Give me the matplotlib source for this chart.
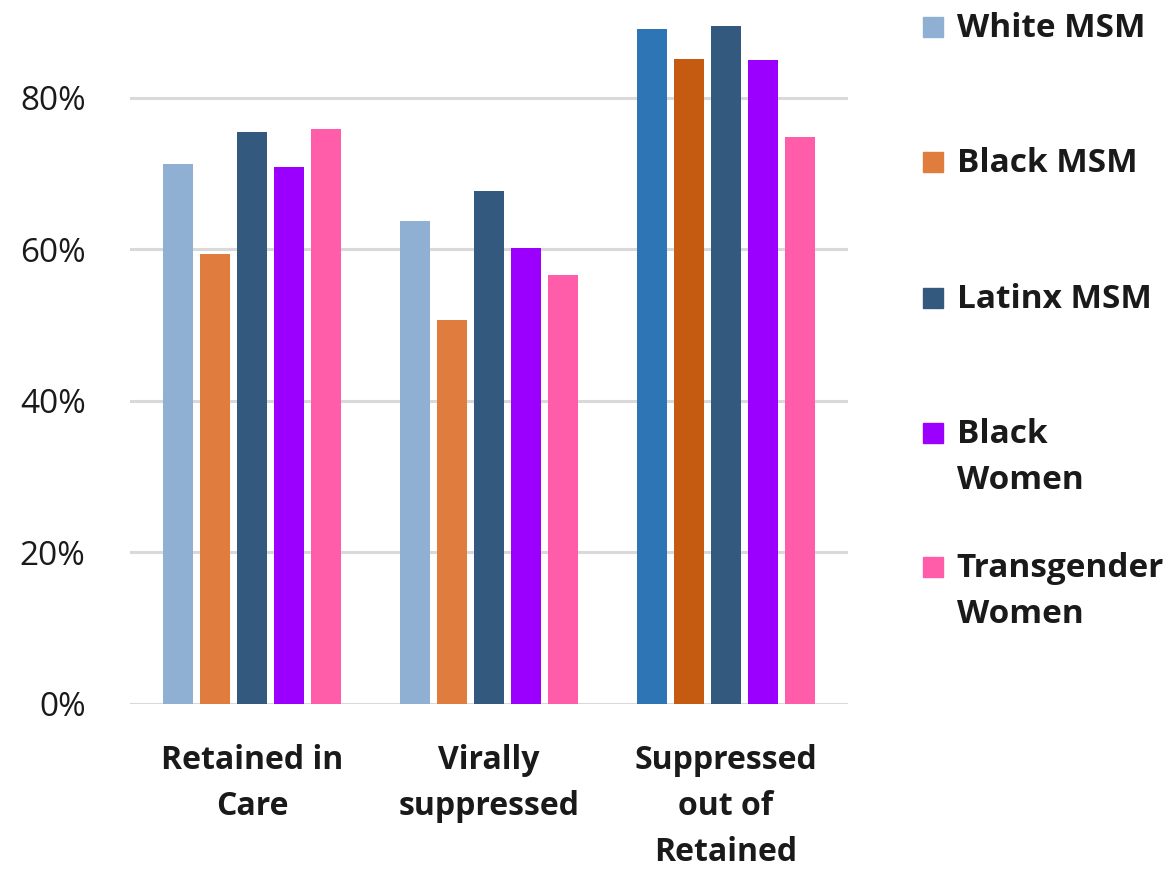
import numpy as np
import matplotlib
matplotlib.use("Agg")
import matplotlib.pyplot as plt
from matplotlib.patches import Rectangle

# categories and series
categories = ["Retained in\nCare", "Virally\nsuppressed", "Suppressed\nout of\nRetained"]
groups = ["White MSM", "Black MSM", "Latinx MSM", "Black\nWomen", "Transgender\nWomen"]
white_msm = [71.2, 63.7, 89.1]
black_msm = [59.4, 50.6, 85.1]
latinx_msm = [75.5, 67.7, 89.5]
black_women = [70.8, 60.2, 84.9]
trans_women = [75.9, 56.6, 74.8]
values = [white_msm, black_msm, latinx_msm, black_women, trans_women]
y_ticks = [0, 20, 40, 60, 80]

colors = ["#8FB0D2", "#E07C3E", "#335A7E", "#9B00FF", "#FF5CAA"]
# last group uses darker blue / orange for the first two series
colors_last = ["#2E75B6", "#C55A11", "#335A7E", "#9B00FF", "#FF5CAA"]

plt.rcParams['font.family'] = ['Open Sans', 'DejaVu Sans']
txt_col = "#1a1a1a"

fig = plt.figure(figsize=(11.66, 8.69), dpi=100)
ax = fig.add_axes([0.1115, 0.19, 0.6155, 0.785])

x = np.arange(len(categories))
pitch = 0.156
width = 0.127
for i, vals in enumerate(values):
    cols = [colors[i]] * (len(categories) - 1) + [colors_last[i]]
    ax.bar(x + (i - 2) * pitch, vals, width, color=cols, zorder=3)

ax.set_xlim(-0.515, 2.515)
ax.set_ylim(0, 90)
ax.set_yticks(y_ticks)
ax.set_yticklabels([f"{t}%" for t in y_ticks], fontsize=24, color=txt_col)
ax.set_xticks(x)
ax.set_xticklabels(categories, fontsize=23, fontweight="bold", color=txt_col,
                   linespacing=1.52)
ax.tick_params(axis="y", length=0, pad=32)
ax.tick_params(axis="x", length=0, pad=29)
ax.yaxis.grid(True, color="#d9d9d9", linewidth=2.2, zorder=0)
for s in ax.spines.values():
    s.set_visible(False)

# legend drawn by hand so the swatch sits on the first line of text
leg_base = [0.9574, 0.8021, 0.6456, 0.4902, 0.3360]
line_step = 46 / 869
for i, name in enumerate(groups):
    fig.patches.append(Rectangle((0.7916, leg_base[i]), 0.0172, 0.023,
                                 transform=fig.transFigure, color=colors[i]))
    for k, line in enumerate(name.split("\n")):
        fig.text(0.8205, leg_base[i] - k * line_step, line, fontsize=24,
                 fontweight="bold", color=txt_col, va="baseline", ha="left")

fig.savefig("out.png", dpi=100)
